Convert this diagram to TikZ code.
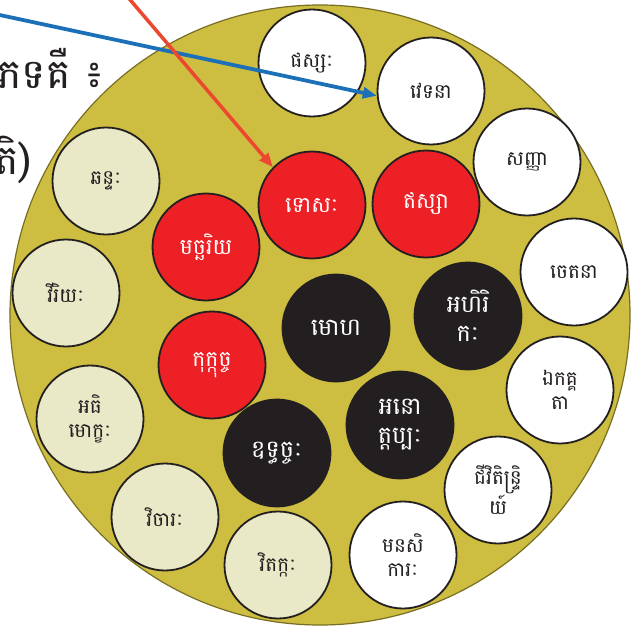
\documentclass[tikz,border=0pt]{standalone}
\usepackage{fontspec}
\newfontfamily\kh[Script=Khmer]{Battambang}
\usetikzlibrary{arrows.meta}
\definecolor{olive}{RGB}{205,189,64}
\definecolor{oliveline}{RGB}{120,110,35}
\definecolor{beige}{RGB}{233,232,199}
\definecolor{redc}{RGB}{237,32,38}
\definecolor{blackc}{RGB}{35,31,32}
\definecolor{bluearr}{RGB}{28,112,184}
\definecolor{redarr}{RGB}{236,72,48}
\tikzset{
  circ/.style={circle, draw=blackc, line width=1.8pt, minimum size=107pt, inner sep=0pt, align=center, font=\kh\fontsize{20}{24}\selectfont},
  whitec/.style={circ, fill=white, text=blackc},
  beigec/.style={circ, fill=beige, text=blackc},
  redcirc/.style={circ, fill=redc, text=white, font=\kh\fontsize{22}{27}\selectfont},
  blackcirc/.style={circ, fill=blackc, text=white, font=\kh\fontsize{24}{29}\selectfont},
  bigtext/.style={font=\kh\fontsize{41}{48}\selectfont, text=blackc, inner sep=0pt, anchor=west}
}
\begin{document}
\begin{tikzpicture}[x=1pt,y=-1pt]
\useasboundingbox (0,0) rectangle (636,626);
\fill[white] (0,0) rectangle (636,626);
\node[bigtext] (t1) at (-3,68) {ភទគឺ ៖};
\node[bigtext] (t2) at (-6,160) {តិ)};
\node[circle, fill=olive, draw=oliveline, line width=1.2pt, minimum size=620pt, inner sep=0pt] (big) at (320,315) {};
% outer ring
\node[whitec] (phassa) at (312,63) {ផស្សៈ};
\node[whitec] (vedana) at (431,91) {វេទនា};
\node[whitec] (sanna) at (527,162) {សញ្ញា};
\node[whitec] (cetana) at (574,272) {ចេតនា};
\node[whitec] (ekagga) at (560,390) {ឯកគ្គ\\តា};
\node[whitec] (jivita) at (498,490) {ជីវិតិន្ទ្រិ\\យ៍};
\node[whitec] (manasi) at (403,555) {មនសិ\\ការៈ};
\node[beigec] (vitakka) at (278,565) {វិតក្កៈ};
\node[beigec] (vicara) at (165,517) {វិចារៈ};
\node[beigec] (adhi) at (90,419) {អធិ\\មោក្ខៈ};
\node[beigec] (viriya) at (66,293) {វីរិយៈ};
\node[beigec] (chanda) at (106,181) {ឆន្ទៈ};
% inner
\node[redcirc] (macch) at (206,247) {មច្ឆរិយ};
\node[redcirc] (kukk) at (212,365) {កុក្កុច្ច};
\node[redcirc] (dosa) at (312,205) {ទោសៈ};
\node[redcirc] (issa) at (426,204) {ឥស្សា};
\node[blackcirc] (moha) at (336,328) {មោហ};
\node[blackcirc] (ahiri) at (468,316) {អហិរិ\\កៈ};
\node[blackcirc] (anott) at (400,425) {អនោ\\ត្តប្បៈ};
\node[blackcirc] (uddh) at (277,453) {ឧទ្ធច្ចៈ};
% arrows
\coordinate (bs) at (-5,14);
\coordinate (rs) at (126,-5);
\draw[bluearr, line width=3.8pt, -{Triangle[length=14pt,width=11pt]}] (bs) -- (vedana.185);
\draw[redarr, line width=3.5pt, -{Triangle[length=14pt,width=11pt]}] (rs) -- (dosa.136);
\end{tikzpicture}
\end{document}
